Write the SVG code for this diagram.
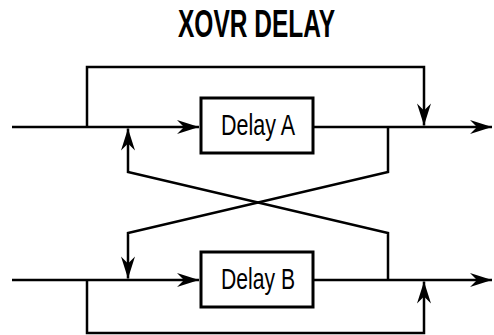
<svg xmlns="http://www.w3.org/2000/svg" width="494" height="335" viewBox="0 0 494 335">
<style>
.ln{fill:none;stroke:#000;stroke-width:2.5;stroke-linejoin:miter}
.box{fill:#fff;stroke:#000;stroke-width:3}
.lbl{font-family:"Liberation Sans",Arial,sans-serif;font-size:30px;fill:#000}
.ttl{font-family:"Liberation Sans",Arial,sans-serif;font-size:38px;font-weight:bold;fill:#000}
</style>
<defs>
<marker id="ah" markerUnits="userSpaceOnUse" viewBox="-23 -8 24 16" markerWidth="24" markerHeight="16" refX="0" refY="0" orient="auto">
<path d="M0,0 L-22,-7 L-15,0 L-22,7 Z" fill="#000"/>
</marker>
</defs>
<text class="ttl" x="178" y="37" textLength="157" lengthAdjust="spacingAndGlyphs">XOVR DELAY</text>
<g id="connectors">
<path class="ln" d="M12,127 H199" marker-end="url(#ah)"/>
<path class="ln" d="M313,127 H492" marker-end="url(#ah)"/>
<path class="ln" d="M12,280 H199" marker-end="url(#ah)"/>
<path class="ln" d="M313,280 H492" marker-end="url(#ah)"/>
<path class="ln" d="M87,127 V67 H424 V125.5" marker-end="url(#ah)"/>
<path class="ln" d="M87,280 V333 H424 V281.5" marker-end="url(#ah)"/>
<path class="ln" d="M388,280 V233 L128,172 V128.5" marker-end="url(#ah)"/>
<path class="ln" d="M388,127 V172 L128,233 V278.5" marker-end="url(#ah)"/>
</g>
<g id="delayA">
<rect class="box" x="201" y="98" width="112" height="55"/>
<text class="lbl" x="221" y="135" textLength="74" lengthAdjust="spacingAndGlyphs">Delay A</text>
</g>
<g id="delayB">
<rect class="box" x="201" y="252" width="112" height="55"/>
<text class="lbl" x="221" y="289" textLength="74" lengthAdjust="spacingAndGlyphs">Delay B</text>
</g>
</svg>
